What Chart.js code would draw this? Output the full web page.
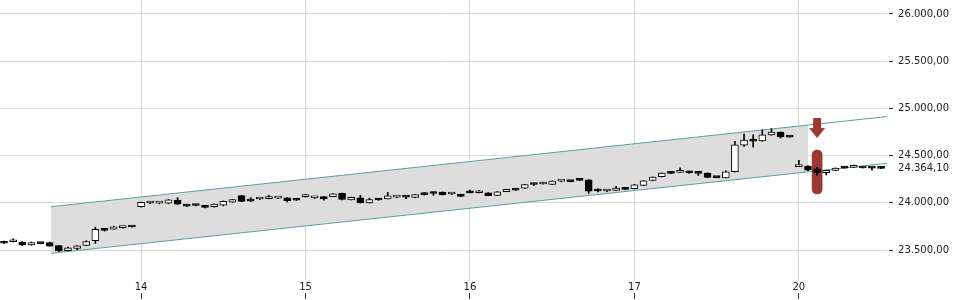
<!DOCTYPE html>
<html><head><meta charset="utf-8">
<script src="https://cdn.jsdelivr.net/npm/chart.js@4.4.1/dist/chart.umd.min.js"></script>
<style>html,body{margin:0;padding:0;background:#fff}#wrap{width:960px;height:300px;position:relative}</style>
</head><body><div id="wrap"><canvas id="c"></canvas></div>
<script>
// Candle data (one candle per slot, index 0..96)
const opens  = [23592,23588,23582,23555,23570,23580,23546,23494,23518,23548,23600,23725,23722,23738,23745,
  23960,23998,23996,23995,24030,23981,23974,23968,23960,23975,24008,24076,24036,24040,24044,24050,24052,24028,
  24066,24052,24066,24066,24100,24032,24053,24000,24043,24042,24060,24062,24057,24100,24114,24114,24093,24090,
  24128,24107,24106,24078,24119,24148,24154,24196,24199,24195,24230,24225,24239,24244,24135,24125,24130,24157,
  24150,24183,24236,24277,24313,24322,24328,24313,24315,24268,24265,24330,24610,24667,24655,24719,24748,24697,
  24384,24388,24360,24318,24342,24369,24375,24376,24370,24365];
const highs  = [23596,23618,23590,23585,23572,23585,23550,23530,23548,23598,23742,23730,23750,23750,23746,
  24008,24008,24004,24035,24055,23985,23980,23972,23990,24020,24036,24078,24055,24048,24080,24058,24055,24030,
  24088,24060,24068,24098,24102,24060,24080,24050,24046,24110,24068,24064,24088,24108,24116,24116,24100,24092,
  24135,24130,24108,24120,24144,24151,24196,24198,24220,24233,24238,24227,24241,24246,24150,24134,24175,24159,
  24195,24236,24275,24317,24315,24370,24335,24315,24318,24270,24340,24650,24728,24720,24773,24785,24751,24699,
  24450,24395,24375,24345,24370,24387,24400,24378,24372,24385];
const lows   = [23570,23587,23545,23550,23565,23538,23484,23490,23505,23545,23570,23700,23718,23732,23743,
  23955,23990,23990,23988,23982,23960,23968,23945,23955,23968,24004,24012,24014,24033,24042,24045,24008,24025,
  24060,24045,24028,24064,24032,24030,23998,23997,24026,24040,24055,24045,24055,24080,24080,24083,24088,24064,
  24104,24105,24075,24076,24117,24130,24152,24184,24197,24192,24222,24222,24236,24100,24115,24118,24128,24138,
  24148,24181,24234,24275,24309,24320,24312,24290,24265,24265,24263,24328,24597,24590,24652,24716,24685,24695,
  24382,24340,24290,24295,24340,24366,24373,24368,24345,24362];
const closes = [23572,23590,23555,23580,23568,23542,23490,23522,23545,23590,23718,23708,23746,23742,23744,
  24005,24001,23998,24032,23985,23965,23972,23952,23987,24015,24033,24015,24018,24042,24046,24053,24024,24027,
  24069,24054,24041,24096,24035,24057,24000,24033,24030,24075,24063,24061,24086,24087,24099,24085,24095,24068,
  24106,24109,24077,24117,24142,24134,24194,24194,24201,24230,24232,24224,24238,24124,24125,24127,24157,24142,
  24190,24234,24273,24315,24311,24324,24318,24311,24268,24267,24328,24615,24665,24652,24720,24748,24698,24696,
  24386,24345,24318,24343,24368,24368,24377,24369,24368,24364.1];

// X axis: day labels at the first candle of each session
const dayLabels = ['14','15','16','17','20'];
const dayStarts = [15, 33, 51, 69, 87];
const xRange = [-0.44, 96.66];

// Y axis
const yTicks = [23500, 24000, 24500, 25000, 25500, 26000];
const lastPrice = 24364.1;
const yRange = [23172, 26148];

// Trend channel (drawing tool anchors)
const channelFillX     = [5.15, 88];
const channelFillUpper = [23959, 24824];
const channelFillLower = [23465, 24327];
const channelLineX     = [5.15, 96.66];
const channelLineUpper = [23959, 24914];
const channelLineLower = [23465, 24418];

// Sell signal marker
const signalX = [89];
const signalArrowY = [24792];
const signalBarLow = [24093];
const signalBarHigh = [24559];

const RED = '#9b3a35';
const TEAL = '#5b9fa3';
const GRID = '#dadada';

function fmt(v){
  const s = Number(v).toFixed(2);
  let [i,d] = s.split('.');
  i = i.replace(/\B(?=(\d{3})+(?!\d))/g,'.');
  return i + ',' + d;
}

// Arrow point style
const arrow = document.createElement('canvas');
arrow.width = 16; arrow.height = 20;
(function(){
  const g = arrow.getContext('2d');
  g.fillStyle = RED;
  g.fillRect(4, 0, 8, 11);
  g.beginPath(); g.moveTo(0, 10); g.lineTo(16, 10); g.lineTo(8, 20); g.closePath(); g.fill();
})();

const idx = opens.map((_, i) => i);
const wickData = idx.map(i => ({x: i, y: [lows[i], highs[i]]}));
const bodyData = idx.map(i => ({x: i, y: [opens[i], closes[i]]}));

const datasets = [
  { type:'bar', label:'body', data: bodyData, order: 1, grouped:false,
    barThickness: 7, minBarLength: 2, borderWidth: 1, borderSkipped: false,
    borderColor:'#000',
    backgroundColor: ctx => (closes[ctx.dataIndex] > opens[ctx.dataIndex]) ? '#fff' : '#000' },
  { type:'bar', label:'wick', data: wickData, order: 2, grouped:false,
    barThickness: 1, backgroundColor:'#000', borderWidth:0 },
  { type:'line', label:'arrow', data: signalX.map((x,i)=>({x, y: signalArrowY[i]})), order: 7,
    showLine:false, pointStyle: arrow, pointRadius: 10 },
  { type:'bar', label:'signal', data: signalX.map((x,i)=>({x, y:[signalBarLow[i], signalBarHigh[i]]})), order: 8,
    grouped:false, barThickness: 10, borderRadius: 5, borderSkipped:false, backgroundColor: RED },
  { type:'line', label:'upperLine', data: channelLineX.map((x,i)=>({x, y: channelLineUpper[i]})), order: 9,
    borderColor: TEAL, borderWidth: 1, pointRadius: 0, fill:false },
  { type:'line', label:'lowerLine', data: channelLineX.map((x,i)=>({x, y: channelLineLower[i]})), order: 9,
    borderColor: TEAL, borderWidth: 1, pointRadius: 0, fill:false },
  { type:'line', label:'fillUpper', data: channelFillX.map((x,i)=>({x, y: channelFillUpper[i]})), order: 10,
    borderWidth: 0, borderColor:'rgba(0,0,0,0)', pointRadius: 0, fill: '+1', backgroundColor:'#dddddd' },
  { type:'line', label:'fillLower', data: channelFillX.map((x,i)=>({x, y: channelFillLower[i]})), order: 10,
    borderWidth: 0, borderColor:'rgba(0,0,0,0)', pointRadius: 0, fill: false },
];

const font = {family:'"DejaVu Sans", sans-serif', size: 10};
const setDayTicks = s => { s.ticks = dayStarts.map(v => ({value: v})); };

new Chart(document.getElementById('c'), {
  type: 'bar',
  data: { datasets },
  options: {
    responsive: true, maintainAspectRatio: false, animation: false,
    layout: { autoPadding: false, padding: { left: 0, right: 11, top: 0, bottom: 1 } },
    plugins: { legend: {display:false}, tooltip: {enabled:false} },
    scales: {
      x: {
        type: 'linear', min: xRange[0], max: xRange[1], offset: false, weight: 0,
        afterBuildTicks: setDayTicks,
        ticks: { autoSkip:false, maxRotation:0, minRotation:0, padding: 0, color:'#222', font,
          callback: (v, i) => dayLabels[i] },
        grid: { offset:false, color: GRID, drawTicks:false },
        border: { display:false }
      },
      x2: {
        type: 'linear', position: 'bottom', min: xRange[0], max: xRange[1], offset: false, weight: 1,
        afterBuildTicks: setDayTicks,
        ticks: { display:false },
        grid: { offset:false, drawOnChartArea:false, drawTicks:true, tickLength: 6, tickColor:'#333' },
        border: { display:false }
      },
      y: {
        type: 'linear', position: 'right', min: yRange[0], max: yRange[1],
        afterBuildTicks: s => {
          const t = yTicks.concat([lastPrice]).sort((a,b)=>a-b).map(v => ({value: v}));
          t.push({value: yRange[1]});
          s.ticks = t;
        },
        ticks: { autoSkip:false, padding: 0, color:'#222', font,
          callback: v => (v === yRange[1]) ? [] : fmt(v) },
        grid: {
          color: c => (c.tick && (c.tick.value === lastPrice || c.tick.value === yRange[1])) ? 'rgba(0,0,0,0)' : GRID,
          tickColor: c => (c.tick && (c.tick.value === lastPrice || c.tick.value === yRange[1])) ? 'rgba(0,0,0,0)' : '#333',
          tickLength: 11, tickBorderDash:[0,2,4,100]
        },
        border: { display:false }
      }
    }
  }
});
</script>
</body></html>
